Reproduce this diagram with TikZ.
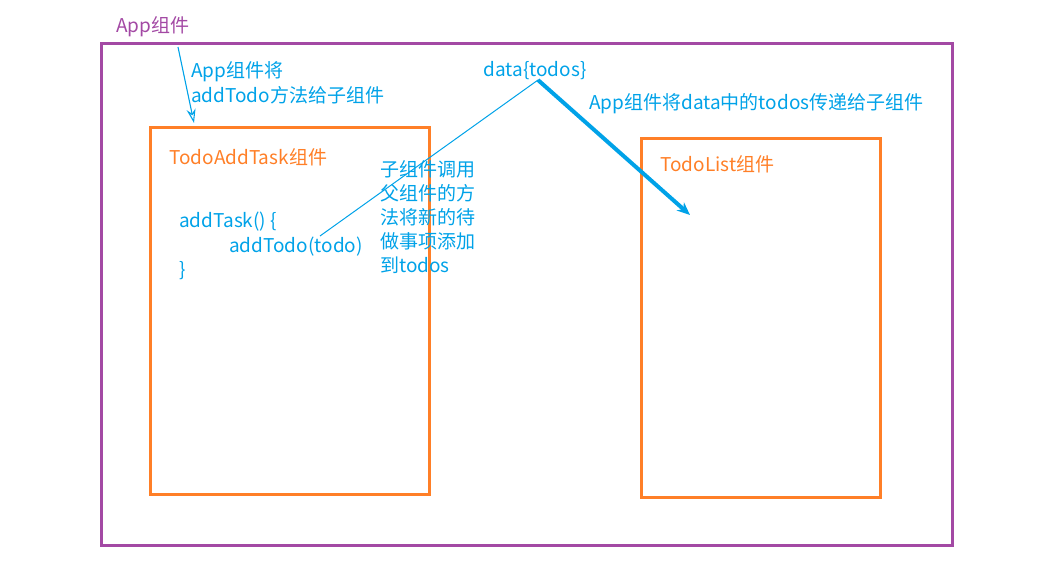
\documentclass[tikz,border=0pt]{standalone}
\usepackage{fontspec}
\setmainfont{Noto Sans CJK SC}
\usepackage{tikz}
\usetikzlibrary{positioning, arrows.meta}
\definecolor{appPurple}{RGB}{163,73,164}
\definecolor{compOrange}{RGB}{255,127,39}
\definecolor{noteBlue}{RGB}{0,162,232}
\tikzset{
appbox/.style={draw=appPurple, line width=3pt, minimum width=851pt, minimum height=502pt, inner sep=0},
compbox/.style={draw=compOrange, line width=3pt, inner sep=0},
title/.style={font=\fontsize{19}{24}\selectfont, inner sep=0, anchor=west},
note/.style={title, text=noteBlue, align=left},
flow/.style={draw=noteBlue, -{Stealth[length=13pt, width=11pt]}}}

\begin{document}
\begin{tikzpicture}[x=1pt, y=-1pt]
\useasboundingbox (0,0) rectangle (1050,581);
% components
\node [appbox] (app) at (526.5,294) {};
\node [title, text=appPurple] (app-t) at (116,27) {App组件};
\node [compbox, minimum width=279pt, minimum height=367pt] (add) at (289.5,310.5) {};
\node [title, text=compOrange] (add-t) at (169,157) {TodoAddTask组件};
\node [compbox, minimum width=239pt, minimum height=359pt] (list) at (760.5,317.5) {};
\node [title, text=compOrange] (list-t) at (660,164) {TodoList组件};

% code in TodoAddTask
\node [note] (code-1) at (179,222) {addTask() \{};
\node [note] (code-2) at (229,247) {addTodo(todo)};
\node [note] (code-3) at (179,271) {\}};

% notes
\node [note, anchor=north west, font=\fontsize{19}{25}\selectfont] (pass) at (191,61) {App组件将\\addTodo方法给子组件};
\node [note, anchor=north west] (call) at (380,160) {子组件调用\\父组件的方\\法将新的待\\做事项添加\\到todos};
\node [note, anchor=center] (data) at (535,71) {data\{todos\}};
\node [note] (give) at (589,104) {App组件将data中的todos传递给子组件};

% connectors
\coordinate (top) at (538,80);
\coordinate (tail) at (320,236);
\coordinate (src) at (178,47);
\coordinate (dst) at (690,215);
\coordinate (hit) at (194,123);
\draw [noteBlue, line width=1.1pt, -{Stealth[open, length=14pt, width=9pt]}] (src) -- (hit);
\draw [noteBlue, line width=1pt] (tail) -- (top);
\draw [flow, line width=4pt] (top) -- (dst);
\end{tikzpicture}
\end{document}
